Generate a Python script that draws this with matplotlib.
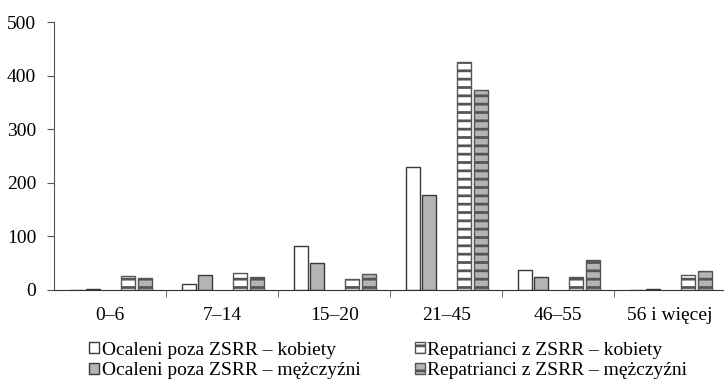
import matplotlib.pyplot as plt
import numpy as np

plt.rcParams['font.family'] = ['Liberation Serif', 'DejaVu Serif']
plt.rcParams['hatch.linewidth'] = 2.0

groups = ['0–6', '7–14', '15–20', '21–45', '46–55', '56 i więcej']
ocaleni_k = [0, 11, 82, 229, 37, 0]
ocaleni_m = [2, 28, 51, 177, 25, 2]
repatr_k = [26, 32, 20, 425, 25, 28]
repatr_m = [22, 24, 30, 373, 55, 36]

labels = ['Ocaleni poza ZSRR – kobiety', 'Ocaleni poza ZSRR – mężczyźni',
          'Repatrianci z ZSRR – kobiety', 'Repatrianci z ZSRR – mężczyźni']

fig = plt.figure(figsize=(7.24, 3.82), dpi=100)
ax = fig.add_axes([0.075, 0.241, 0.928, 0.701])

x = np.arange(len(groups))
w = 0.125
edge = '#3a3a3a'
gray = '#b5b5b5'

ax.bar(x - 0.30, ocaleni_k, w, color='white', edgecolor=edge, linewidth=1, label=labels[0])
ax.bar(x - 0.15, ocaleni_m, w, color=gray, edgecolor=edge, linewidth=1, label=labels[1])
ax.bar(x + 0.155, repatr_k, w, color='white', edgecolor='#555555', linewidth=1,
       hatch='--', label=labels[2])
ax.bar(x + 0.31, repatr_m, w, color=gray, edgecolor='#555555', linewidth=1,
       hatch='--', label=labels[3])

ax.set_xlim(-0.5, len(groups) - 0.5)
ax.set_ylim(0, 500)
ax.set_yticks(range(0, 501, 100))
ax.set_xticks(x)
ax.set_xticklabels(groups)
ax.set_xticks(x[:-1] + 0.5, minor=True)
ax.tick_params(axis='x', which='major', length=0, pad=12, labelsize=14)
ax.tick_params(axis='x', which='minor', length=5, color='#555555')
ax.tick_params(axis='y', length=5, color='#555555', labelsize=14, pad=8)
for s in ['top', 'right']:
    ax.spines[s].set_visible(False)
ax.spines['left'].set_color('#555555')
ax.spines['bottom'].set_color('#333333')

fig.legend(loc='upper left', bbox_to_anchor=(89 / 724, 0.106), ncol=2, frameon=False,
           fontsize=14, handlelength=0.5, handleheight=0.5, handletextpad=0.15,
           columnspacing=2.8, labelspacing=0.2, borderpad=0, borderaxespad=0)

fig.savefig('out.png', dpi=100)
